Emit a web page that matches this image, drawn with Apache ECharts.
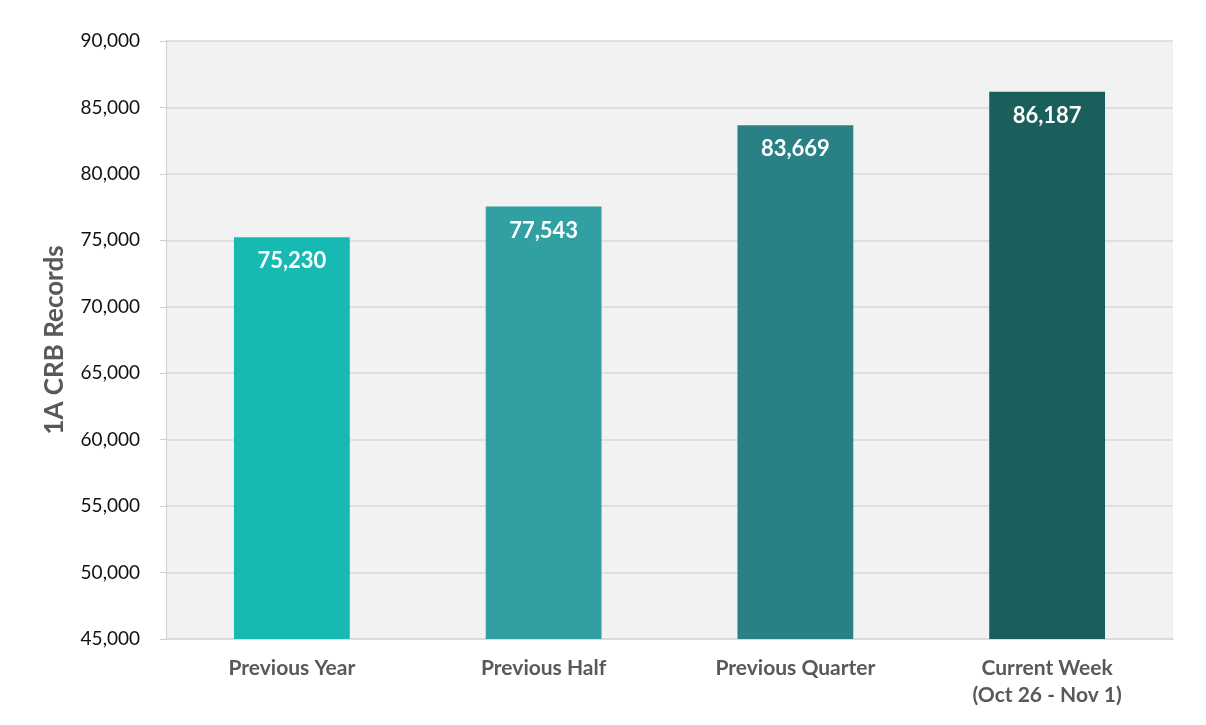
<!DOCTYPE html>
<html>
<head>
<meta charset="utf-8">
<script src="https://cdn.jsdelivr.net/npm/echarts@6/dist/echarts.min.js"></script>
<style>html,body{margin:0;padding:0;background:#fff}#c{width:1206px;height:725px}</style>
</head>
<body>
<div id="c"></div>
<script>
const categories = ['Previous Year', 'Previous Half', 'Previous Quarter', 'Current Week\n(Oct 26 - Nov 1)'];
const values = [75230, 77543, 83669, 86187];
const barColors = ['#17b9b3', '#31a0a2', '#2a8185', '#1b5f5d'];
const yMin = 45000, yMax = 90000, yStep = 5000;

const chart = echarts.init(document.getElementById('c'));
chart.setOption({
  animation: false,
  grid: { left: 166, right: 33, top: 41, bottom: 86, show: true, backgroundColor: '#f2f2f2', borderWidth: 0 },
  xAxis: {
    type: 'category',
    data: categories,
    axisLine: { show: true, lineStyle: { color: '#d9d9d9', width: 1.5 } },
    axisTick: { show: false },
    axisLabel: { color: '#595959', fontFamily: 'Lato', fontWeight: 'bold', fontSize: 21, margin: 16, lineHeight: 27 }
  },
  yAxis: {
    type: 'value',
    min: yMin, max: yMax, interval: yStep,
    name: '1A CRB Records',
    nameLocation: 'middle',
    nameGap: 98,
    nameTextStyle: { color: '#595959', fontFamily: 'Lato', fontWeight: 'bold', fontSize: 26 },
    axisLine: { show: true, lineStyle: { color: '#d0d0d0' } },
    axisTick: { show: true, length: 6, lineStyle: { color: '#d0d0d0' } },
    splitLine: { show: true, lineStyle: { color: '#d9d9d9', width: 1.5 } },
    axisLabel: {
      color: '#111', fontFamily: 'Lato', fontSize: 19, margin: 26,
      formatter: v => v.toLocaleString('en-US')
    }
  },
  series: [{
    type: 'bar',
    barWidth: '46%',
    data: values.map((v, i) => ({ value: v, itemStyle: { color: barColors[i] } })),
    label: {
      show: true, position: 'insideTop', distance: 13,
      color: '#fff', fontFamily: 'Lato', fontWeight: 'bold', fontSize: 22,
      formatter: p => p.value.toLocaleString('en-US')
    }
  }]
});
</script>
</body>
</html>
